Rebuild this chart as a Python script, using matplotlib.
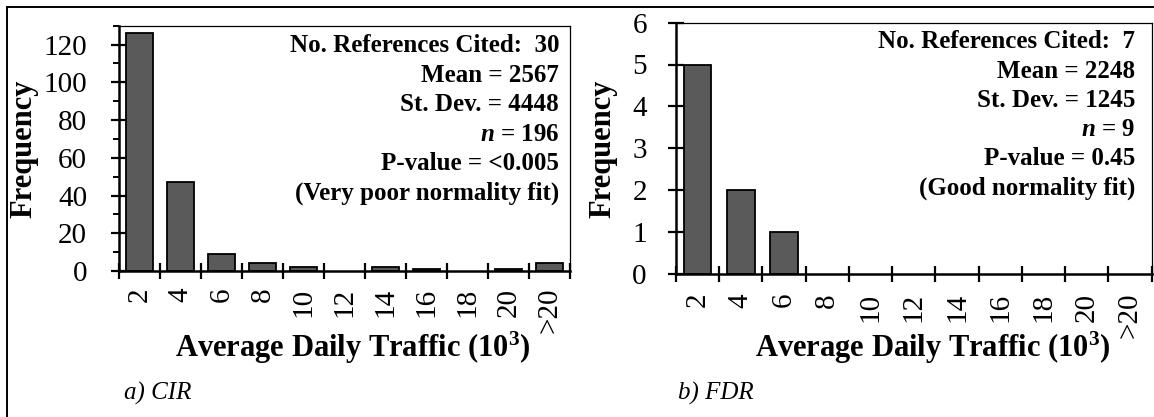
import matplotlib
matplotlib.use("Agg")
import matplotlib.pyplot as plt
from matplotlib.lines import Line2D
from matplotlib.ticker import MultipleLocator, FixedLocator, NullFormatter, FixedFormatter

# Histogram bins of average daily traffic (thousands of vehicles)
bin_labels = ["2", "4", "6", "8", "10", "12", "14", "16", "18", "20", ">20"]

# Frequencies per bin
cir_counts = [126, 47, 9, 4, 2, 0, 2, 1, 0, 1, 4]
fdr_counts = [5, 2, 1, 0, 0, 0, 0, 0, 0, 0, 0]

# Summary statistics shown in each panel
cir_stats = ["No. References Cited:  30", "Mean = 2567", "St. Dev. = 4448",
             r"$\mathit{n}$ = 196", "P-value = <0.005", "(Very poor normality fit)"]
fdr_stats = ["No. References Cited:  7", "Mean = 2248", "St. Dev. = 1245",
             r"$\mathit{n}$ = 9", "P-value = 0.45", "(Good normality fit)"]

panel_titles = ["a) CIR", "b) FDR"]

plt.rcParams["font.family"] = ["Liberation Serif", "DejaVu Serif"]
plt.rcParams["mathtext.fontset"] = "custom"
plt.rcParams["mathtext.rm"] = "Liberation Serif:bold"
plt.rcParams["mathtext.it"] = "Liberation Serif:italic:bold"
plt.rcParams["mathtext.bf"] = "Liberation Serif:bold"

W, H = 1154, 417
fig = plt.figure(figsize=(W / 100, H / 100), dpi=100)


def fx(px):
    return px / W


def fy(py):
    return 1 - py / H


def make_axes(x0, x1, ytop, ybot):
    return fig.add_axes([fx(x0), fy(ybot), fx(x1 - x0), (ybot - ytop) / H])


BAR_COLOR = "#5a5a5a"
TICK_FS = 21
STAT_FS = 18
LABEL_FS = 22


def style_axes(ax, counts, ymax, ymajor, yminor, ypad, xpad):
    x = list(range(len(counts)))
    # empty bins get no outline so nothing is drawn along the axis
    edge_w = [1.3 if c > 0 else 0 for c in counts]
    ax.bar(x, counts, width=0.64, color=BAR_COLOR, edgecolor="black",
           linewidth=edge_w, zorder=2)
    ax.set_xlim(-0.5, len(counts) - 0.5)
    ax.set_ylim(0, ymax)
    for side in ("left", "bottom"):
        ax.spines[side].set_linewidth(1.8)
        ax.spines[side].set_zorder(3)
    for side in ("top", "right"):
        ax.spines[side].set_linewidth(0.9)
    # category boundaries get the tick marks, labels sit at bin centres
    ax.xaxis.set_major_locator(FixedLocator([i - 0.5 for i in range(len(counts) + 1)]))
    ax.xaxis.set_major_formatter(NullFormatter())
    ax.xaxis.set_minor_locator(FixedLocator(x))
    ax.xaxis.set_minor_formatter(FixedFormatter(bin_labels))
    ax.tick_params(axis="x", which="major", direction="inout", length=11,
                   width=1.6, top=False)
    ax.tick_params(axis="x", which="minor", length=0, pad=xpad,
                   labelsize=TICK_FS, labelrotation=90)
    ax.yaxis.set_major_locator(MultipleLocator(ymajor))
    ax.tick_params(axis="y", which="major", direction="inout", length=12,
                   width=1.6, pad=ypad, labelsize=TICK_FS, right=False)
    if yminor:
        ax.yaxis.set_minor_locator(MultipleLocator(yminor))
        ax.tick_params(axis="y", which="minor", direction="out", length=4,
                       width=1.4, right=False)
    for lab in ax.get_xticklabels(minor=True):
        lab.set_va("top")


# Panel a) CIR
ax1 = make_axes(119, 570, 25.7, 271)
style_axes(ax1, cir_counts, 130, 20, 10, ypad=17, xpad=12)

# Panel b) FDR
ax2 = make_axes(676, 1151.5, 22.7, 273.5)
style_axes(ax2, fdr_counts, 6, 1, None, ypad=15, xpad=14)

# Statistics blocks, right-aligned inside each plot area
for lines, xr, y0, dy in ((cir_stats, 559, 46, 29.4), (fdr_stats, 1135, 42, 29.2)):
    for i, s in enumerate(lines):
        fig.text(fx(xr), fy(y0 + i * dy), s, ha="right", va="center",
                 fontsize=STAT_FS, fontweight="bold")

# Axis titles
for xc in (24, 603):
    fig.text(fx(xc), fy(149), "Frequency", rotation=90, ha="center",
             va="center", fontsize=LABEL_FS, fontweight="bold")
for xc in (353, 933):
    fig.text(fx(xc), fy(348), r"Average Daily Traffic ($\mathbf{10^3}$)",
             ha="center", va="center", fontsize=LABEL_FS, fontweight="bold")

# Panel captions
for xl, title in zip((124, 678), panel_titles):
    fig.text(fx(xl), fy(393), title, ha="left", va="center", fontsize=18,
             fontstyle="italic")

# Outer frame (top and left edges)
fig.add_artist(Line2D([fx(6.5), fx(W)], [fy(6.5), fy(6.5)], color="black",
                      linewidth=1.4, transform=fig.transFigure))
fig.add_artist(Line2D([fx(6.5), fx(6.5)], [fy(6.5), 0], color="black",
                      linewidth=1.4, transform=fig.transFigure))

fig.savefig("out.png", dpi=100)
